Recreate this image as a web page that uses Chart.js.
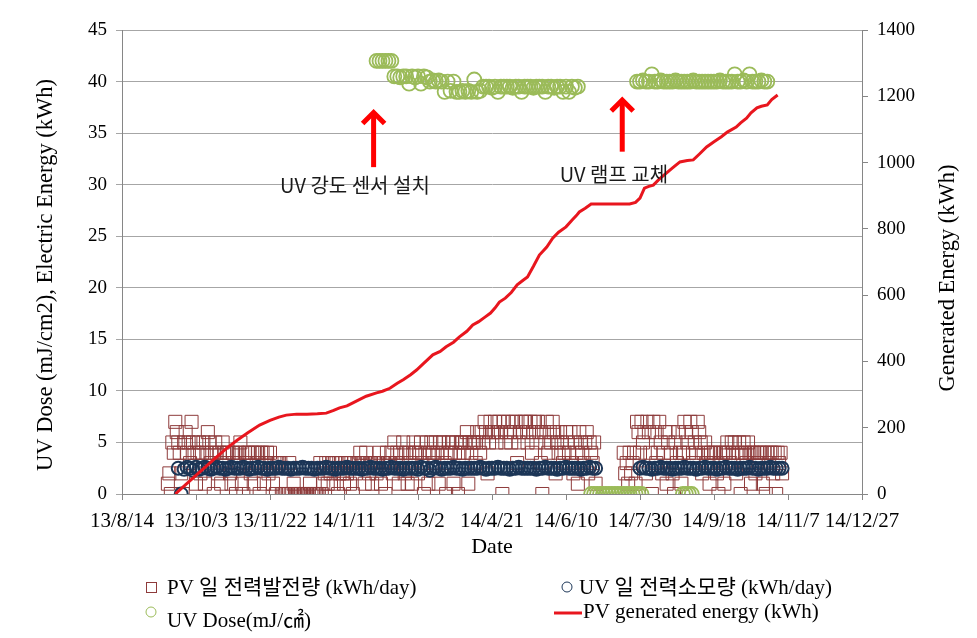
<!DOCTYPE html>
<html>
<head>
<meta charset="utf-8">
<script src="https://cdn.jsdelivr.net/npm/chart.js@4.4.1/dist/chart.umd.min.js"></script>
<style>
  html, body { margin: 0; padding: 0; background: #fff; }
</style>
</head>
<body>
<canvas id="myChart" width="977" height="638"></canvas>
<script>
// x values are days counted from 13/8/14
const dateLabels = ['13/8/14', '13/10/3', '13/11/22', '14/1/11', '14/3/2', '14/4/21',
  '14/6/10', '14/7/30', '14/9/18', '14/11/7', '14/12/27'];

// PV daily generation (kWh/day), one value per day from day 31
const pvStart = 31;
const pvDaily = [
  1,2,0,5,4,7,6,5,4,2, 0,5,6,4,5,3,7,5,4,1, 4,5,2,4,5,1,4,6,5,3, 4,0,5,4,2,4,1,5,4,3,
  4,4,2,1,4,3,0,4,4,5, 1,0,4,3,4,4,2,4,1,4, 3,4,0,4,4,1,3,4,2,4, 3,1,3,0,3,3,3,0,0,0,
  0,0,3,0,0,1,0,0,0,0, 0,0,0,0,0,0,1,0,0,0, 0,0,0,3,0,1,2,3,1,3, 2,3,1,3,3,0,2,3,2,1,
  3,2,3,1,3,0,3,2,3,3, 4,3,3,1,4,3,2,3,1,3, 3,2,3,4,1,3,3,0,4,3, 3,4,2,5,3,4,1,4,3,5,
  2,4,1,4,3,1,5,4,4,2, 4,5,3,0,4,5,1,4,5,4, 3,5,4,1,5,4,5,3,0,4, 5,4,5,1,4,5,0,4,5,5,
  4,5,6,1,5,4,5,5,3,6, 5,4,6,5,7,6,2,5,7,6, 6,7,5,6,7,6,0,7,5,6, 7,6,5,7,6,7,3,5,6,7,
  6,7,7,5,6,7,4,6,7,5, 7,6,3,0,6,5,7,4,6,5, 7,6,2,5,4,6,5,3,4,6, 5,4,6,3,2,5,4,1,6,5,
  4,3,5,6,2,5,4,3,5,1,
  null,null,null,null,null,null,null,null,null,null,null,null,null,null,null,null,null,null,
  4,2,3,1,4,2,3,4,1,7, 6,4,7,5,6,2,7,6,4,0, 7,6,3,4,7,5,2,4,6,1, 5,6,4,2,0,5,3,6,4,1,
  4,7,6,5,4,7,6,3,5,4, 7,6,5,2,4,5,3,4,1,4, 3,4,4,2,0,4,3,4,1,4, 5,4,3,5,4,5,2,4,5,0,
  4,5,4,3,5,4,1,4,4,2, 4,3,4,4,1,4,0,4,3,4, 4,2,4,0,4,3,4,2
];

// UV lamp daily consumption (kWh/day), every 2nd day from day 38
const uvStart = 38;
const uvPower = [
  2.5,0,2.4,2.6,2.5,2.3,2.6,2.4,2.5,2.6,2.5,2.4,2.5,2.6,2.5,2.5,2.4,2.5,2.6,2.5,
  2.5,2.5,2.6,2.5,2.4,2.5,2.5,2.6,2.5,2.5,2.4,2.5,2.5,2.5,2.6,2.5,2.5,2.5,2.4,2.5,
  2.5,2.5,2.6,2.5,2.5,2.5,2.4,2.5,2.5,2.5,2.6,2.5,2.5,2.4,2.5,2.5,2.5,2.6,2.5,2.5,
  2.5,2.5,2.4,2.5,2.5,2.6,2.5,2.5,2.5,2.4,2.5,2.5,2.6,2.5,2.5,2.5,2.4,2.5,2.5,2.5,
  2.5,2.4,2.6,2.5,2.5,2.3,2.5,2.6,2.5,2.4,2.5,2.5,2.5,2.6,2.5,2.5,2.4,2.5,2.5,2.5,
  2.5,2.5,2.6,2.5,2.4,2.5,2.5,2.5,2.6,2.5,2.5,2.5,2.4,2.5,2.5,2.6,2.5,2.5,2.5,2.5,
  2.5,2.4,2.5,2.5,2.6,2.5,2.5,2.5,2.4,2.5,2.5,2.6,2.5,2.5,2.5,2.5,2.4,2.5,2.5,2.6,2.5,2.5,
  null,null,null,null,null,null,null,null,null,null,null,null,null,null,
  2.5,2.6,2.5,2.5,2.4,2.5,2.5,2.6,2.5,2.5,2.5,2.4,2.5,2.5,2.5,2.6,2.5,2.5,2.5,2.4,
  2.5,2.5,2.6,2.5,2.5,2.5,2.4,2.5,2.5,2.6,2.5,2.5,2.5,2.4,2.5,2.5,2.5,2.6,2.5,2.5,
  2.4,2.5,2.5,2.5,2.6,2.5,2.5,2.5,2.5
];

// UV dose (mJ/cm2), every 2nd day from day 172
const doseStart = 172;
const uvDose = [
  42,42,42,42,42,42,
  40.5,40.5,40.4,40.5,40.5,39.8,40.5,40.4,40.5,39.8,40.5,40.4,
  40,40.1,40,40.1,40,39,40,39.1,40,39,
  39,39.1,39,39.1,39,40.2,39,39.1,39.5,
  39.5,39.5,39.4,39.5,39,39.5,39.5,39.5,39.5,39.4,39.5,39.5,39,39.5,39.5,39.5,39.4,
  39.5,39.5,39.5,39,39.5,39.5,39.4,39.5,39.5,39,39.5,39,39.5,39.4,39.5,
  null,null,null,null,null,null,null,null,null,null,null,null,null,null,null,null,null,null,null,
  40,40,40.1,40,40,40.7,40,40,40.1,40,40,40,40,40.1,40,40,40,40,40,40.1,
  40,40,40,40,40,40,40,40,40.1,40,40,40,40,40.7,40,40,40.1,40,40.7,40,
  40,40,40.1,40,40
];
// days when the dose sensor read zero
const doseOffDays = [317,319,321,323,325,327,329,331,333,335,337,339,341,343,345,347,349,351,379,381,383,385];
const doseOffValues = [0,0,0,0,0,0,0,0,0,0,0,0,0,0,0,0,0,0,0,0,0,0];

// cumulative PV generated energy (kWh)
const cumDays = [36,43,50,57,64,71,78,85,93,100,106,111,118,125,132,138,143,147,152,156,161,165,172,176,181,
  186,190,195,199,204,210,215,219,224,228,233,237,241,245,249,252,255,259,263,267,271,274,278,282,287,291,
  295,300,304,307,309,313,317,343,347,350,353,356,359,363,368,372,377,382,386,390,395,400,405,409,415,418,
  422,425,429,432,436,439,443];
const cumKWh = [0,28,56,84,112,139,163,185,208,222,232,238,241,241,242,244,252,260,266,275,286,295,305,310,319,
  334,345,360,374,395,420,430,444,458,474,491,510,520,533,546,561,579,591,608,631,645,655,687,721,745,772,
  790,806,826,840,851,862,875,875,880,893,923,928,932,950,969,984,1002,1006,1008,1025,1047,1063,1078,1092,1107,1120,
  1134,1150,1165,1170,1174,1190,1204];

// annotations (day, left-axis value)
const noteText = ['UV 강도 센서 설치', 'UV 램프 교체'];
const noteDay = [157.4, 332.4];
const noteVal = [29.9, 31.0];
const arrowDay = [170, 338];
const arrowTip = [37.2, 38.4];
const arrowBase = [31.7, 33.2];

function byDay(start, step, values) {
  return values.map((v, i) => ({ x: start + i * step, y: v }));
}
function pairs(xs, ys) {
  return xs.map((d, i) => ({ x: d, y: ys[i] }));
}

const PV_COLOR = '#8E3B3B';
const UV_COLOR = '#1C3657';
const DOSE_COLOR = '#9BBB59';
const LINE_COLOR = '#E8161E';
const SERIF = "'Liberation Serif', 'Noto Sans CJK KR', serif";

const overlay = {
  id: 'overlay',
  afterDatasetsDraw(chart) {
    const { ctx, scales: { x, y } } = chart;
    ctx.save();
    ctx.strokeStyle = '#FF0000';
    ctx.lineWidth = 5;
    arrowDay.forEach((d, i) => {
      const px = x.getPixelForValue(d);
      const top = y.getPixelForValue(arrowTip[i]);
      const bot = y.getPixelForValue(arrowBase[i]);
      ctx.beginPath();
      ctx.moveTo(px, bot);
      ctx.lineTo(px, top + 3);
      ctx.stroke();
      ctx.beginPath();
      ctx.moveTo(px - 11, top + 13);
      ctx.lineTo(px, top + 2);
      ctx.lineTo(px + 11, top + 13);
      ctx.stroke();
    });
    ctx.fillStyle = '#1a1a1a';
    ctx.font = "20px 'Noto Sans CJK KR'";
    ctx.textAlign = 'center';
    ctx.textBaseline = 'middle';
    noteText.forEach((t, i) => {
      ctx.fillText(t, x.getPixelForValue(noteDay[i]), y.getPixelForValue(noteVal[i]));
    });
    ctx.restore();
  },
  afterDraw(chart) {
    const { ctx } = chart;
    // vertical axis titles
    ctx.save();
    ctx.fillStyle = '#000';
    ctx.font = '22.5px ' + SERIF;
    ctx.textAlign = 'center';
    ctx.textBaseline = 'middle';
    ctx.translate(46, 275);
    ctx.rotate(-Math.PI / 2);
    ctx.fillText('UV Dose (mJ/cm2), Electric Energy (kWh)', 0, 0);
    ctx.restore();
    ctx.save();
    ctx.fillStyle = '#000';
    ctx.font = '22.5px ' + SERIF;
    ctx.textAlign = 'center';
    ctx.textBaseline = 'middle';
    ctx.translate(948, 278);
    ctx.rotate(-Math.PI / 2);
    ctx.fillText('Generated Energy (kWh)', 0, 0);
    ctx.restore();

    // legend
    ctx.save();
    ctx.font = '21px ' + SERIF;
    ctx.textAlign = 'left';
    ctx.textBaseline = 'middle';
    ctx.fillStyle = '#000';
    ctx.lineWidth = 1;
    ctx.strokeStyle = PV_COLOR;
    ctx.strokeRect(146.5, 582.5, 10, 10);
    ctx.fillText('PV 일 전력발전량 (kWh/day)', 167, 588);
    ctx.strokeStyle = UV_COLOR;
    ctx.beginPath(); ctx.arc(567, 587, 5, 0, Math.PI * 2); ctx.stroke();
    ctx.fillText('UV 일 전력소모량 (kWh/day)', 579, 588);
    ctx.strokeStyle = DOSE_COLOR;
    ctx.beginPath(); ctx.arc(151, 612, 5, 0, Math.PI * 2); ctx.stroke();
    ctx.fillText('UV Dose(mJ/㎠)', 167, 621);
    ctx.strokeStyle = LINE_COLOR;
    ctx.lineWidth = 3;
    ctx.beginPath(); ctx.moveTo(554, 613); ctx.lineTo(582, 613); ctx.stroke();
    ctx.fillText('PV generated energy (kWh)', 583, 612);
    ctx.restore();
  }
};

new Chart(document.getElementById('myChart'), {
  type: 'scatter',
  data: {
    datasets: [
      {
        label: 'PV generated energy (kWh)',
        data: pairs(cumDays, cumKWh),
        yAxisID: 'y2',
        showLine: true,
        borderColor: LINE_COLOR,
        borderWidth: 3,
        pointRadius: 0,
        tension: 0
      },
      {
        label: 'UV Dose(mJ/㎠)',
        data: byDay(doseStart, 2, uvDose).concat(pairs(doseOffDays, doseOffValues)),
        borderColor: DOSE_COLOR,
        backgroundColor: 'rgba(0,0,0,0)',
        borderWidth: 1.8,
        pointRadius: 7
      },
      {
        label: 'UV 일 전력소모량 (kWh/day)',
        data: byDay(uvStart, 2, uvPower),
        borderColor: UV_COLOR,
        backgroundColor: 'rgba(0,0,0,0)',
        borderWidth: 2,
        pointRadius: 6.5
      },
      {
        label: 'PV 일 전력발전량 (kWh/day)',
        data: byDay(pvStart, 1, pvDaily),
        borderColor: PV_COLOR,
        backgroundColor: 'rgba(0,0,0,0)',
        borderWidth: 1,
        pointStyle: 'rect',
        pointRadius: 9.2
      }
    ]
  },
  options: {
    responsive: false,
    animation: false,
    devicePixelRatio: 1,
    layout: { padding: { top: 30, bottom: 78, left: 0, right: 0 } },
    plugins: { legend: { display: false }, tooltip: { enabled: false } },
    scales: {
      x: {
        type: 'linear',
        min: 0,
        max: 500,
        afterFit: s => { s.height = 66; },
        ticks: {
          stepSize: 50,
          autoSkip: false,
          maxRotation: 0,
          padding: 9,
          color: '#000',
          font: { family: SERIF, size: 21 },
          callback: v => dateLabels[Math.round(v / 50)]
        },
        grid: { drawOnChartArea: false, tickLength: 6, color: '#868686' },
        border: { color: '#868686' },
        title: { display: true, text: 'Date', color: '#000', padding: { top: 0, bottom: 0 }, font: { family: SERIF, size: 22 } }
      },
      y: {
        position: 'left',
        min: 0,
        max: 45,
        afterFit: s => { s.width = 122; },
        ticks: { stepSize: 5, padding: 9, color: '#000', font: { family: SERIF, size: 19 } },
        grid: { color: '#A6A6A6', tickLength: 6 },
        border: { color: '#868686' }
      },
      y2: {
        position: 'right',
        min: 0,
        max: 1400,
        afterFit: s => { s.width = 115; },
        ticks: { stepSize: 200, padding: 9, color: '#000', font: { family: SERIF, size: 19 }, callback: v => String(v) },
        grid: { drawOnChartArea: false, tickLength: 6, color: '#868686' },
        border: { color: '#868686' }
      }
    }
  },
  plugins: [overlay]
});
</script>
</body>
</html>
